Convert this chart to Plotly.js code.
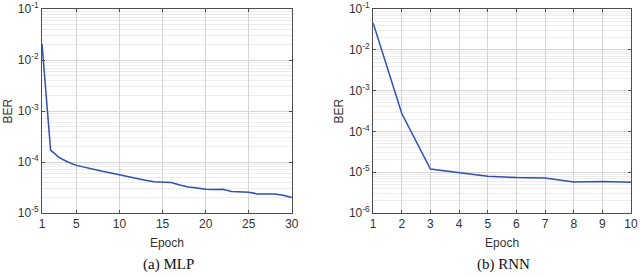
<!DOCTYPE html>
<html>
<head>
<meta charset="utf-8">
<script src="https://cdn.plot.ly/plotly-3.0.1.min.js"></script>
<style>html,body{margin:0;padding:0;background:#fff}#chart{width:640px;height:277px}</style>
</head>
<body>
<div id="chart"></div>
<script>
const mlpEpoch = [1,2,3,4,5,6,7,8,9,10,11,12,13,14,15,16,17,18,19,20,21,22,23,24,25,26,27,28,29,30];
const mlpBER = [2.1e-2,1.71e-4,1.22e-4,1.0e-4,8.6e-5,7.8e-5,7.1e-5,6.6e-5,6.1e-5,5.6e-5,5.1e-5,4.7e-5,4.4e-5,4.1e-5,4.0e-5,3.95e-5,3.56e-5,3.25e-5,3.1e-5,2.93e-5,2.9e-5,2.93e-5,2.64e-5,2.64e-5,2.56e-5,2.37e-5,2.37e-5,2.35e-5,2.24e-5,2.02e-5];
const rnnEpoch = [1,2,3,4,5,6,7,8,9,10];
const rnnBER = [4.6e-2,2.75e-4,1.2e-5,1.0e-5,8.0e-6,7.4e-6,7.2e-6,5.8e-6,5.9e-6,5.7e-6];
const mlpXTicks = [1,5,10,15,20,25,30];
const rnnXTicks = [1,2,3,4,5,6,7,8,9,10];
const mlpYTicks = [1e-5,1e-4,1e-3,1e-2,1e-1];
const mlpYText = ['10<sup>-5</sup>','10<sup>-4</sup>','10<sup>-3</sup>','10<sup>-2</sup>','10<sup>-1</sup>'];
const rnnYTicks = [1e-6,1e-5,1e-4,1e-3,1e-2,1e-1];
const rnnYText = ['10<sup>-6</sup>','10<sup>-5</sup>','10<sup>-4</sup>','10<sup>-3</sup>','10<sup>-2</sup>','10<sup>-1</sup>'];
const captions = ['(a) MLP','(b) RNN'];
const xTitle = 'Epoch', yTitle = 'BER';

const lineColor = '#2f4fb5';
const tickFont = {family:'Liberation Sans, Arial, sans-serif', size:12, color:'#333'};
function xa(domain, range, ticks){
  return {domain:domain, range:range, tickvals:ticks, ticktext:ticks.map(String),
    showgrid:true, gridcolor:'#d4d4d4', gridwidth:1, zeroline:false,
    showline:true, linecolor:'#4d4d4d', linewidth:1, mirror:'ticks',
    ticks:'inside', ticklen:3, tickcolor:'#4d4d4d', tickfont:tickFont,
    title:{text:xTitle, font:tickFont, standoff:8}};
}
function ya(range, vals, text){
  return {domain:[0.231,0.967], type:'log', range:range, tickvals:vals, ticktext:text,
    showgrid:true, gridcolor:'#d4d4d4', gridwidth:1, zeroline:false,
    showline:true, linecolor:'#4d4d4d', linewidth:1, mirror:'ticks',
    ticks:'inside', ticklen:3, tickcolor:'#4d4d4d', tickfont:tickFont,
    ticklabeloverflow:'allow',
    minor:{showgrid:true, gridcolor:'#ededed', gridwidth:1, dtick:'D1', ticks:''},
    title:{text:yTitle, font:tickFont, standoff:2}};
}
const data = [
  {x:mlpEpoch, y:mlpBER, type:'scatter', mode:'lines', line:{color:lineColor, width:1.5}, xaxis:'x', yaxis:'y', showlegend:false},
  {x:rnnEpoch, y:rnnBER, type:'scatter', mode:'lines', line:{color:lineColor, width:1.5}, xaxis:'x2', yaxis:'y2', showlegend:false}
];
const layout = {
  width:640, height:277, margin:{l:0,r:0,t:0,b:0},
  paper_bgcolor:'#fff', plot_bgcolor:'#fff',
  xaxis: Object.assign(xa([0.0656,0.456],[1,30],mlpXTicks), {anchor:'y'}),
  yaxis: Object.assign(ya([-5.0002,-0.9998],mlpYTicks,mlpYText), {anchor:'x'}),
  xaxis2: Object.assign(xa([0.583,0.986],[1,10],rnnXTicks), {anchor:'y2'}),
  yaxis2: Object.assign(ya([-6.0002,-0.9998],rnnYTicks,rnnYText), {anchor:'x2'}),
  annotations:[
    {text:captions[0], xref:'paper', yref:'paper', x:0.263, y:1-264/277, xanchor:'center', yanchor:'middle', showarrow:false, font:{family:'Liberation Serif, Times New Roman, serif', size:15, color:'#111'}},
    {text:captions[1], xref:'paper', yref:'paper', x:0.786, y:1-264/277, xanchor:'center', yanchor:'middle', showarrow:false, font:{family:'Liberation Serif, Times New Roman, serif', size:15, color:'#111'}}
  ]
};
Plotly.newPlot('chart', data, layout, {staticPlot:true, displayModeBar:false});
</script>
</body>
</html>
